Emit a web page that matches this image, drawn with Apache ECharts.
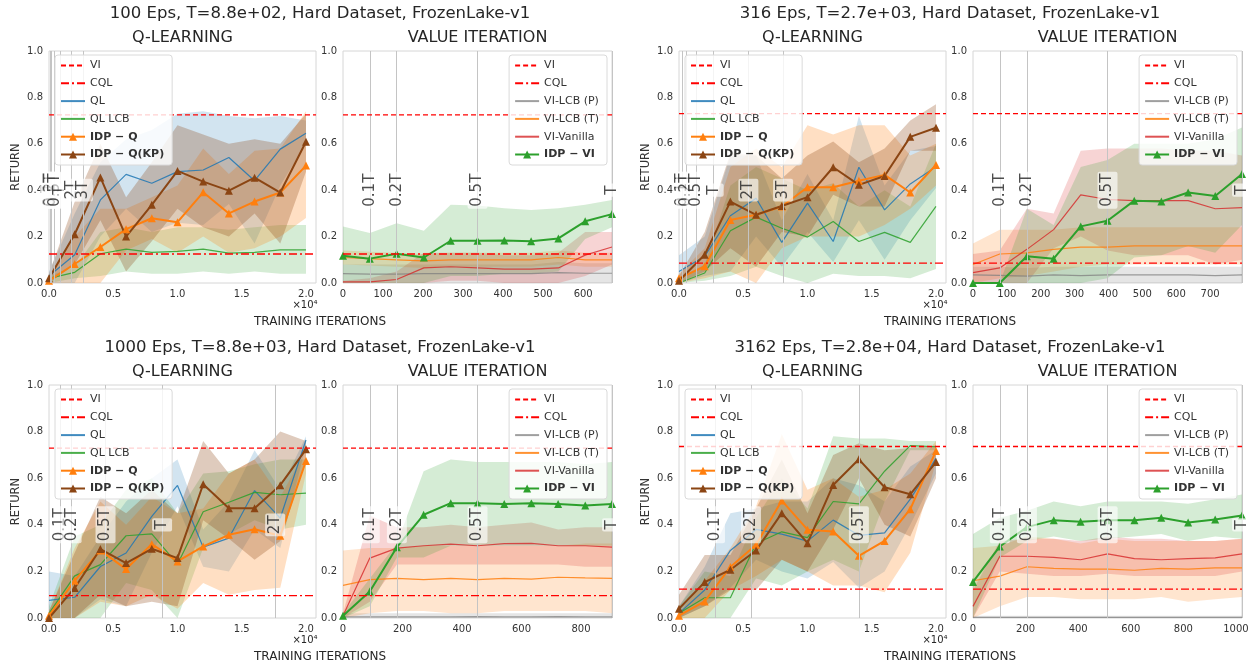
<!DOCTYPE html>
<html><head><meta charset="utf-8">
<script src="https://cdn.jsdelivr.net/npm/echarts@6/dist/echarts.min.js"></script>
<style>html,body{margin:0;padding:0;background:#fff}#c{width:1254px;height:665px}</style>
</head><body><div id="c"></div><script>
const FONT = 'DejaVu Sans';
const titles = ['100 Eps, T=8.8e+02, Hard Dataset, FrozenLake-v1','316 Eps, T=2.7e+03, Hard Dataset, FrozenLake-v1','1000 Eps, T=8.8e+03, Hard Dataset, FrozenLake-v1','3162 Eps, T=2.8e+04, Hard Dataset, FrozenLake-v1'];
const subTitles = ['Q-LEARNING','VALUE ITERATION'];
const xName = 'TRAINING ITERATIONS';
const yName = 'RETURN';
const qlNames = ['VI','CQL','QL','QL LCB','IDP \u2212 Q','IDP \u2212 Q(KP)'];
const viNames = ['VI','CQL','VI-LCB (P)','VI-LCB (T)','VI-Vanilla','IDP \u2212 VI'];

const qlX = [0,2000,4000,6000,8000,10000,12000,14000,16000,18000,20000];
const qlXMax = 20780;
const viXMax = [672,794,904,1023];
const viX1 = [0,67,134,202,269,336,403,470,538,605,672];
const viX2 = [0,79,159,238,318,397,476,556,635,715,794];
const viX3 = [0,90,181,271,362,452,542,633,723,814,904];
const viX4 = [0,102,205,307,409,512,614,716,818,921,1023];
const viRef = [0.725,0.73,0.729,0.736];
const cqlRef = [0.125,0.086,0.096,0.124];
const qlVlineX = [[88,176,440,880,1760,2640],[270,540,1350,2700,5400,8100],[880,1760,4400,8800,17600],[2800,5600,14000]];
const qlVlineLabels = [['0.1T','0.2T','0.5T','T','2T','3T'],['0.1T','0.2T','0.5T','T','2T','3T'],['0.1T','0.2T','0.5T','T','2T'],['0.1T','0.2T','0.5T']];
const viVlineX = [[67,134,336,672],[79,159,397,794],[90,181,452,904],[102,205,512,1023]];
const viVlineLabels = ['0.1T','0.2T','0.5T','T'];

// ---- Panel 1 (100 Eps) Q-learning
const p1_ql    = [0.03,0.122,0.358,0.468,0.43,0.48,0.487,0.541,0.441,0.577,0.645];
const p1_ql_lo = [0.0,0.0,0.2,0.32,0.22,0.26,0.25,0.34,0.17,0.42,0.6];
const p1_ql_hi = [0.05,0.3,0.52,0.62,0.66,0.73,0.74,0.72,0.71,0.72,0.7];
const p1_lcb    = [0.02,0.046,0.126,0.146,0.132,0.136,0.146,0.129,0.132,0.143,0.143];
const p1_lcb_lo = [0.0,0.02,0.03,0.05,0.04,0.04,0.05,0.04,0.05,0.04,0.04];
const p1_lcb_hi = [0.03,0.07,0.22,0.24,0.22,0.24,0.24,0.23,0.24,0.25,0.25];
const p1_iq    = [0.01,0.082,0.155,0.232,0.279,0.262,0.391,0.30,0.351,0.39,0.506];
const p1_iq_lo = [0.0,0.0,0.0,0.14,0.19,0.13,0.2,0.13,0.15,0.2,0.28];
const p1_iq_hi = [0.02,0.2,0.32,0.32,0.37,0.42,0.58,0.47,0.57,0.58,0.74];
const p1_kp    = [0.02,0.21,0.455,0.20,0.337,0.483,0.437,0.398,0.454,0.39,0.609];
const p1_kp_lo = [0.0,0.08,0.27,0.05,0.18,0.32,0.24,0.2,0.3,0.17,0.48];
const p1_kp_hi = [0.04,0.35,0.6,0.37,0.52,0.68,0.64,0.6,0.62,0.6,0.73];
// ---- Panel 1 value iteration
const p1_p    = [0.04,0.038,0.038,0.04,0.04,0.04,0.04,0.04,0.045,0.042,0.042];
const p1_p_lo = [0,0,0,0,0,0,0,0,0,0,0];
const p1_p_hi = [0.08,0.08,0.08,0.08,0.08,0.08,0.08,0.08,0.09,0.085,0.085];
const p1_t    = [0.11,0.105,0.10,0.095,0.10,0.10,0.10,0.10,0.11,0.10,0.10];
const p1_t_lo = [0.08,0.075,0.07,0.065,0.07,0.07,0.07,0.07,0.08,0.07,0.07];
const p1_t_hi = [0.14,0.135,0.13,0.125,0.13,0.13,0.13,0.13,0.14,0.13,0.13];
const p1_v    = [0.005,0.005,0.015,0.065,0.07,0.065,0.06,0.06,0.065,0.12,0.155];
const p1_v_lo = [0,0,0,0,0.01,0.01,0,0,0,0.03,0.08];
const p1_v_hi = [0.01,0.02,0.05,0.13,0.13,0.13,0.12,0.12,0.13,0.22,0.22];
const p1_iv    = [0.117,0.105,0.126,0.11,0.182,0.182,0.183,0.18,0.192,0.266,0.297];
const p1_iv_lo = [0.0,0.0,0.0,0.0,0.03,0.03,0.04,0.04,0.05,0.19,0.24];
const p1_iv_hi = [0.244,0.215,0.258,0.225,0.337,0.334,0.322,0.315,0.322,0.337,0.358];

// ---- Panel 2 (316 Eps) Q-learning
const p2_ql    = [0.05,0.115,0.29,0.365,0.175,0.344,0.179,0.499,0.315,0.427,0.501];
const p2_ql_lo = [0.0,0.03,0.05,0.2,0.07,0.22,0.09,0.27,0.1,0.27,0.41];
const p2_ql_hi = [0.12,0.2,0.55,0.55,0.27,0.47,0.27,0.72,0.42,0.57,0.59];
const p2_lcb    = [0.0,0.043,0.225,0.284,0.236,0.198,0.265,0.179,0.218,0.175,0.33];
const p2_lcb_lo = [0,0.01,0.03,0.07,0.03,0.0,0.04,0.03,0.03,0.02,0.06];
const p2_lcb_hi = [0.02,0.08,0.42,0.5,0.45,0.4,0.43,0.33,0.4,0.33,0.6];
const p2_iq    = [0.02,0.072,0.272,0.294,0.33,0.413,0.413,0.441,0.466,0.39,0.509];
const p2_iq_lo = [0,0.02,0.05,0.0,0.15,0.2,0.2,0.2,0.25,0.32,0.42];
const p2_iq_hi = [0.04,0.15,0.5,0.58,0.5,0.68,0.64,0.68,0.68,0.55,0.6];
const p2_kp    = [0.01,0.122,0.351,0.294,0.332,0.37,0.499,0.423,0.461,0.63,0.669];
const p2_kp_lo = [0,0.05,0.15,0.07,0.22,0.2,0.38,0.33,0.33,0.57,0.57];
const p2_kp_hi = [0.03,0.22,0.56,0.55,0.45,0.55,0.61,0.52,0.58,0.7,0.77];
// ---- Panel 2 value iteration
const p2_p    = [0.035,0.033,0.03,0.035,0.032,0.035,0.035,0.035,0.035,0.032,0.035];
const p2_p_lo = [0,0,0,0,0,0,0,0,0,0,0];
const p2_p_hi = [0.07,0.07,0.065,0.07,0.07,0.07,0.07,0.07,0.07,0.07,0.07];
const p2_t    = [0.08,0.125,0.13,0.145,0.155,0.155,0.16,0.16,0.16,0.16,0.16];
const p2_t_lo = [0,0.02,0.03,0.05,0.07,0.08,0.08,0.08,0.08,0.08,0.08];
const p2_t_hi = [0.17,0.23,0.23,0.23,0.24,0.24,0.24,0.24,0.24,0.24,0.24];
const p2_v    = [0.045,0.065,0.145,0.23,0.38,0.36,0.355,0.355,0.355,0.32,0.325];
const p2_v_lo = [0,0,0,0.15,0.2,0.14,0.12,0.12,0.12,0.08,0.1];
const p2_v_hi = [0.125,0.14,0.32,0.3,0.57,0.58,0.58,0.58,0.57,0.57,0.55];
const p2_iv    = [0.0,0.0,0.115,0.105,0.244,0.268,0.355,0.351,0.39,0.375,0.47];
const p2_iv_lo = [0,0,0,0,0,0.02,0.11,0.12,0.16,0.13,0.25];
const p2_iv_hi = [0,0,0.32,0.25,0.5,0.53,0.6,0.6,0.6,0.62,0.67];

// ---- Panel 3 (1000 Eps) Q-learning
const p3_ql    = [0.076,0.089,0.221,0.279,0.436,0.569,0.304,0.343,0.547,0.429,0.764];
const p3_ql_lo = [0,0,0.08,0.05,0.28,0.48,0.22,0.2,0.38,0.3,0.74];
const p3_ql_hi = [0.2,0.18,0.35,0.5,0.6,0.68,0.38,0.5,0.72,0.55,0.78];
const p3_lcb    = [0.02,0.181,0.229,0.353,0.361,0.231,0.456,0.497,0.539,0.529,0.536];
const p3_lcb_lo = [0,0,0,0.15,0.12,0,0.3,0.36,0.42,0.38,0.4];
const p3_lcb_hi = [0.05,0.35,0.4,0.55,0.6,0.45,0.62,0.63,0.66,0.68,0.68];
const p3_iq    = [0.01,0.16,0.29,0.21,0.317,0.243,0.307,0.357,0.381,0.353,0.674];
const p3_iq_lo = [0,0,0.07,0.05,0.1,0.04,0.15,0.1,0.12,0.13,0.62];
const p3_iq_hi = [0.03,0.3,0.5,0.4,0.52,0.45,0.47,0.62,0.68,0.52,0.72];
const p3_kp    = [0.0,0.129,0.296,0.236,0.297,0.257,0.574,0.471,0.471,0.57,0.724];
const p3_kp_lo = [0,0,0.1,0.05,0.07,0.05,0.42,0.34,0.25,0.33,0.68];
const p3_kp_hi = [0.03,0.28,0.52,0.45,0.55,0.45,0.76,0.62,0.68,0.8,0.76];
// ---- Panel 3 value iteration
const p3_p    = [0.005,0.005,0.005,0.005,0.005,0.006,0.005,0.005,0.006,0.005,0.005];
const p3_p_lo = [0,0,0,0,0,0,0,0,0,0,0];
const p3_p_hi = [0.02,0.02,0.02,0.02,0.02,0.02,0.02,0.02,0.02,0.02,0.02];
const p3_t    = [0.14,0.165,0.17,0.165,0.17,0.165,0.17,0.167,0.175,0.172,0.17];
const p3_t_lo = [0,0.02,0.03,0.03,0.02,0.02,0.03,0.03,0.03,0.03,0.02];
const p3_t_hi = [0.29,0.3,0.3,0.31,0.31,0.31,0.31,0.31,0.31,0.32,0.32];
const p3_v    = [0.01,0.257,0.30,0.31,0.317,0.31,0.319,0.32,0.31,0.31,0.304];
const p3_v_lo = [0,0.07,0.23,0.23,0.23,0.23,0.23,0.23,0.23,0.22,0.22];
const p3_v_hi = [0.02,0.44,0.39,0.39,0.40,0.39,0.40,0.41,0.38,0.39,0.39];
const p3_iv    = [0.01,0.114,0.304,0.443,0.493,0.493,0.489,0.493,0.489,0.483,0.489];
const p3_iv_lo = [0,0.05,0.26,0.26,0.31,0.31,0.31,0.31,0.31,0.31,0.31];
const p3_iv_hi = [0.02,0.17,0.32,0.63,0.68,0.67,0.67,0.67,0.67,0.66,0.67];

// ---- Panel 4 (3162 Eps) Q-learning
const p4_ql    = [0.02,0.12,0.29,0.38,0.36,0.33,0.42,0.355,0.365,0.51,0.685];
const p4_ql_lo = [0,0.05,0.13,0.25,0.2,0.17,0.24,0.13,0.2,0.4,0.62];
const p4_ql_hi = [0.05,0.22,0.45,0.47,0.5,0.5,0.6,0.57,0.5,0.65,0.72];
const p4_lcb    = [0.02,0.087,0.087,0.32,0.37,0.345,0.5,0.49,0.63,0.74,0.735];
const p4_lcb_lo = [0,0,0,0.17,0.14,0.2,0.25,0.2,0.5,0.72,0.72];
const p4_lcb_hi = [0.05,0.2,0.18,0.43,0.6,0.47,0.78,0.77,0.77,0.76,0.76];
const p4_iq    = [0.01,0.071,0.219,0.314,0.504,0.379,0.371,0.267,0.331,0.467,0.717];
const p4_iq_lo = [0,0,0.12,0.18,0.25,0.2,0.14,0.14,0.11,0.28,0.67];
const p4_iq_hi = [0.02,0.16,0.3,0.48,0.79,0.55,0.6,0.52,0.55,0.62,0.76];
const p4_kp    = [0.04,0.154,0.207,0.29,0.45,0.321,0.571,0.681,0.561,0.531,0.669];
const p4_kp_lo = [0,0.05,0.12,0.12,0.25,0.2,0.38,0.6,0.4,0.35,0.6];
const p4_kp_hi = [0.1,0.27,0.27,0.47,0.68,0.45,0.7,0.75,0.72,0.73,0.74];
// ---- Panel 4 value iteration
const p4_p    = [0.003,0.003,0.003,0.003,0.003,0.003,0.003,0.003,0.003,0.003,0.003];
const p4_p_lo = [0,0,0,0,0,0,0,0,0,0,0];
const p4_p_hi = [0.01,0.01,0.01,0.01,0.01,0.01,0.01,0.01,0.01,0.01,0.01];
const p4_t    = [0.16,0.18,0.22,0.213,0.21,0.21,0.205,0.213,0.21,0.215,0.215];
const p4_t_lo = [0,0.05,0.09,0.09,0.08,0.08,0.08,0.09,0.07,0.08,0.09];
const p4_t_hi = [0.3,0.31,0.35,0.34,0.32,0.34,0.33,0.33,0.33,0.33,0.34];
const p4_v    = [0.05,0.265,0.265,0.26,0.25,0.275,0.255,0.25,0.255,0.258,0.275];
const p4_v_lo = [0,0.2,0.19,0.18,0.18,0.19,0.18,0.18,0.18,0.18,0.2];
const p4_v_hi = [0.12,0.33,0.34,0.34,0.33,0.35,0.34,0.34,0.33,0.33,0.34];
const p4_iv    = [0.155,0.307,0.39,0.42,0.413,0.42,0.42,0.43,0.41,0.423,0.44];
const p4_iv_lo = [0,0.26,0.33,0.35,0.33,0.34,0.35,0.36,0.33,0.35,0.34];
const p4_iv_hi = [0.36,0.43,0.46,0.5,0.48,0.5,0.5,0.5,0.49,0.51,0.53];

// ---------------- build ----------------
const COL = {ref:'#ff0000', ql:'#1f77b4', lcb:'#2ca02c', iq:'#ff7f0e', kp:'#8b4513', p:'#7f7f7f', t:'#ff7f0e', v:'#d62728', iv:'#2ca02c'};

const QLdata = [
  {ql:[p1_ql,p1_ql_lo,p1_ql_hi], lcb:[p1_lcb,p1_lcb_lo,p1_lcb_hi], iq:[p1_iq,p1_iq_lo,p1_iq_hi], kp:[p1_kp,p1_kp_lo,p1_kp_hi]},
  {ql:[p2_ql,p2_ql_lo,p2_ql_hi], lcb:[p2_lcb,p2_lcb_lo,p2_lcb_hi], iq:[p2_iq,p2_iq_lo,p2_iq_hi], kp:[p2_kp,p2_kp_lo,p2_kp_hi]},
  {ql:[p3_ql,p3_ql_lo,p3_ql_hi], lcb:[p3_lcb,p3_lcb_lo,p3_lcb_hi], iq:[p3_iq,p3_iq_lo,p3_iq_hi], kp:[p3_kp,p3_kp_lo,p3_kp_hi]},
  {ql:[p4_ql,p4_ql_lo,p4_ql_hi], lcb:[p4_lcb,p4_lcb_lo,p4_lcb_hi], iq:[p4_iq,p4_iq_lo,p4_iq_hi], kp:[p4_kp,p4_kp_lo,p4_kp_hi]}
];
const VIdata = [
  {x:viX1, p:[p1_p,p1_p_lo,p1_p_hi], t:[p1_t,p1_t_lo,p1_t_hi], v:[p1_v,p1_v_lo,p1_v_hi], iv:[p1_iv,p1_iv_lo,p1_iv_hi]},
  {x:viX2, p:[p2_p,p2_p_lo,p2_p_hi], t:[p2_t,p2_t_lo,p2_t_hi], v:[p2_v,p2_v_lo,p2_v_hi], iv:[p2_iv,p2_iv_lo,p2_iv_hi]},
  {x:viX3, p:[p3_p,p3_p_lo,p3_p_hi], t:[p3_t,p3_t_lo,p3_t_hi], v:[p3_v,p3_v_lo,p3_v_hi], iv:[p3_iv,p3_iv_lo,p3_iv_hi]},
  {x:viX4, p:[p4_p,p4_p_lo,p4_p_hi], t:[p4_t,p4_t_lo,p4_t_hi], v:[p4_v,p4_v_lo,p4_v_hi], iv:[p4_iv,p4_iv_lo,p4_iv_hi]}
];

const panelPos = [ {lx:49, vx:343, top:51, h:232}, {lx:679, vx:973, top:51, h:232}, {lx:49, vx:343, top:385, h:233}, {lx:679, vx:973, top:385, h:233} ];

const grids=[], xAxes=[], yAxes=[], series=[], legends=[], graphics=[];

function band(xs, lo, hi, color, op, gi, z) {
  return {type:'custom', xAxisIndex:gi, yAxisIndex:gi, silent:true, clip:true, z:z||2,
    encode:{x:0,y:1}, data:[[xs[0], hi[0]]],
    renderItem:function(params, api){
      const pts=[];
      for (let i=0;i<xs.length;i++) pts.push(api.coord([xs[i], hi[i]]));
      for (let i=xs.length-1;i>=0;i--) pts.push(api.coord([xs[i], lo[i]]));
      return {type:'polygon', shape:{points:pts}, style:{fill:color, opacity:op}};
    }};
}
function line(name, xs, ys, color, gi, bold, op) {
  const s = {type:'line', name, xAxisIndex:gi, yAxisIndex:gi, silent:true, z:3,
    data: xs.map((x,i)=>[x, ys[i]]), symbol:'none', showSymbol:false,
    lineStyle:{color, width:1.2, opacity: op==null?1:op}, itemStyle:{color}};
  if (bold) { s.symbol='triangle'; s.showSymbol=true; s.symbolSize=8; s.lineStyle.width=2; s.z=4; }
  return s;
}
function refLines(gi, xmax, p) {
  series.push({type:'line', name:'VI', xAxisIndex:gi, yAxisIndex:gi, silent:true, z:5, symbol:'none',
    data:[[0,viRef[p]],[xmax,viRef[p]]], lineStyle:{color:COL.ref, width:1.3, type:[5,3]}, itemStyle:{color:COL.ref}});
  series.push({type:'line', name:'CQL', xAxisIndex:gi, yAxisIndex:gi, silent:true, z:5, symbol:'none',
    data:[[0,cqlRef[p]],[xmax,cqlRef[p]]], lineStyle:{color:COL.ref, width:1.3, type:[8,3,2,3]}, itemStyle:{color:COL.ref}});
}
function vlines(gi, xs, labels) {
  series.push({type:'scatter', xAxisIndex:gi, yAxisIndex:gi, silent:true, z:1, data:[], symbolSize:0,
    markLine:{silent:true, symbol:'none', animation:false, label:{show:false},
      lineStyle:{color:'#c4c4c4', width:1, type:'solid'}, data: xs.map(x=>({xAxis:x}))}});
  series.push({type:'scatter', xAxisIndex:gi, yAxisIndex:gi, silent:true, z:6, symbolSize:1,
    itemStyle:{color:'rgba(0,0,0,0)'},
    data: xs.map((x,i)=>({value:[x,0.4], name:labels[i]})),
    label:{show:true, formatter:'{b}', rotate:90, position:'inside', fontSize:15, fontFamily:FONT, color:'#222',
      backgroundColor:'rgba(255,255,255,0.8)', padding:[3,2,2,2], borderRadius:2}});
}
function axes(gi, left, top, w, h, xmax, xint, xfmt, showName) {
  grids.push({left, top, width:w, height:h, show:true, borderColor:'#d6d6d6', borderWidth:1, backgroundColor:'#fff', containLabel:false});
  xAxes.push({type:'value', gridIndex:gi, min:0, max:xmax, interval:xint,
    axisLine:{show:false}, axisTick:{show:false}, splitLine:{show:false},
    axisLabel:{fontSize:10, color:'#333', fontFamily:FONT, margin:6, showMaxLabel:false, formatter:xfmt}});
  yAxes.push({type:'value', gridIndex:gi, min:0, max:1, interval:0.2,
    axisLine:{show:false}, axisTick:{show:false}, splitLine:{show:false},
    axisLabel:{fontSize:10, color:'#333', fontFamily:FONT, margin:6, formatter:v=>v.toFixed(1)},
    name: showName?yName:'', nameLocation:'middle', nameGap:27, nameTextStyle:{fontSize:11.5, color:'#333', fontFamily:FONT}});
}
function legendCfg(names, pos) {
  return Object.assign({orient:'vertical',
    data: names.map(n => n.indexOf('IDP')===0 ? {name:n} : {name:n, itemStyle:{opacity:0}}),
    itemWidth:24, itemHeight:10, itemGap:6.8,
    padding:[5,8,5,5], backgroundColor:'rgba(255,255,255,0.82)', borderColor:'#dadada', borderWidth:1, borderRadius:3,
    selectedMode:false, z:10,
    textStyle:{fontSize:11, color:'#333', fontFamily:FONT, rich:{b:{fontSize:11, fontWeight:'bold', color:'#333', fontFamily:FONT}}},
    formatter: n => n.indexOf('IDP')===0 ? '{b|'+n+'}' : n}, pos);
}
function txt(text, x, y, size, extra) {
  graphics.push(Object.assign({type:'text', x, y, silent:true, z:20, style:{text, fill:'#262626', font:size+'px "DejaVu Sans"',
    align:'center', verticalAlign:'middle', textAlign:'center', textVerticalAlign:'middle'}}, extra||{}));
}

for (let p=0;p<4;p++) {
  const pp = panelPos[p];
  const gq = 2*p, gv = 2*p+1;
  axes(gq, pp.lx, pp.top, 267, pp.h, qlXMax, 5000, v=>(v/10000).toFixed(1), true);
  axes(gv, pp.vx, pp.top, 269, pp.h, viXMax[p], p>=2?200:100, v=>String(v), false);
  const d = QLdata[p];
  vlines(gq, qlVlineX[p], qlVlineLabels[p]);
  refLines(gq, qlXMax, p);
  series.push(band(qlX, d.ql[1], d.ql[2], COL.ql, 0.2, gq));
  series.push(line('QL', qlX, d.ql[0], COL.ql, gq, false, 0.85));
  series.push(band(qlX, d.lcb[1], d.lcb[2], COL.lcb, 0.2, gq));
  series.push(line('QL LCB', qlX, d.lcb[0], COL.lcb, gq, false, 0.85));
  series.push(band(qlX, d.iq[1], d.iq[2], COL.iq, 0.25, gq));
  series.push(line('IDP \u2212 Q', qlX, d.iq[0], COL.iq, gq, true));
  series.push(band(qlX, d.kp[1], d.kp[2], COL.kp, 0.28, gq));
  series.push(line('IDP \u2212 Q(KP)', qlX, d.kp[0], COL.kp, gq, true));
  const e = VIdata[p];
  vlines(gv, viVlineX[p], viVlineLabels);
  refLines(gv, viXMax[p], p);
  series.push(band(e.x, e.p[1], e.p[2], COL.p, 0.2, gv));
  series.push(line('VI-LCB (P)', e.x, e.p[0], COL.p, gv, false, 0.75));
  series.push(band(e.x, e.t[1], e.t[2], COL.t, 0.2, gv));
  series.push(line('VI-LCB (T)', e.x, e.t[0], COL.t, gv, false, 0.85));
  series.push(band(e.x, e.v[1], e.v[2], COL.v, 0.2, gv));
  series.push(line('VI-Vanilla', e.x, e.v[0], COL.v, gv, false, 0.8));
  series.push(band(e.x, e.iv[1], e.iv[2], COL.iv, 0.2, gv));
  series.push(line('IDP \u2212 VI', e.x, e.iv[0], COL.iv, gv, true));

  legends.push(legendCfg(qlNames, {left:pp.lx+6, top:pp.top+4}));
  legends.push(legendCfg(viNames, {right:1254-(pp.vx+269)+5, top:pp.top+4}));

  const cx = p%2===0 ? 320 : 950;
  const tOff = pp.top;
  txt(titles[p], cx, tOff-37, 16.5);
  txt(subTitles[0], pp.lx+133.5, tOff-13, 16);
  txt(subTitles[1], pp.vx+134.5, tOff-13, 16);
  txt('\u00d710\u2074', pp.lx+256, tOff+pp.h+22, 10);
  txt(xName, cx, tOff+pp.h+39, 12);
}

const chart = echarts.init(document.getElementById('c'), null, {renderer:'canvas'});
chart.setOption({animation:false, backgroundColor:'#fff', textStyle:{fontFamily:FONT},
  grid:grids, xAxis:xAxes, yAxis:yAxes, series, legend:legends, graphic:graphics});
</script></body></html>
